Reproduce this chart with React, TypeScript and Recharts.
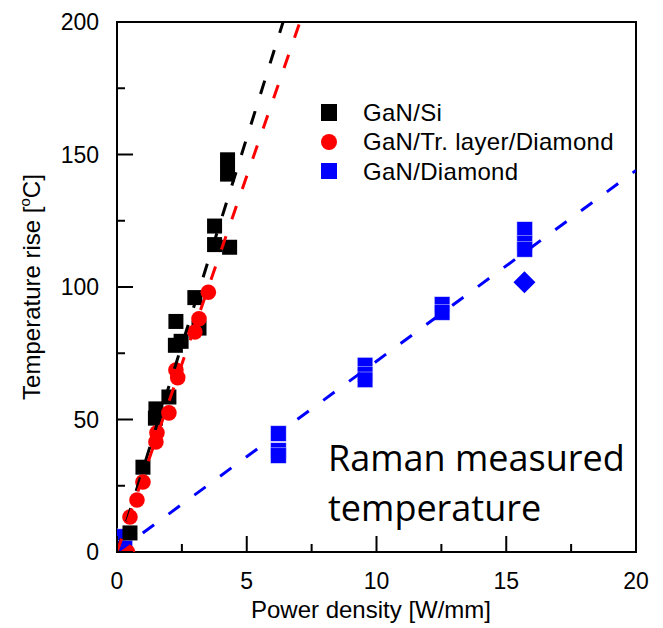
import React from 'react';
import { ScatterChart, Scatter, XAxis, YAxis, ReferenceArea, Legend } from 'recharts';

const xTicks = [0, 2.5, 5, 7.5, 10, 12.5, 15, 17.5, 20];
const yTicks = [0, 25, 50, 75, 100, 125, 150, 175, 200];

const seriesNames = ['GaN/Si', 'GaN/Tr. layer/Diamond', 'GaN/Diamond'];
const seriesColors = ['#000000', '#ff0000', '#0000ff'];

const ganSi = [
  { x: 0.5, y: 7.2 },
  { x: 1.0, y: 32 },
  { x: 1.48, y: 50.5 },
  { x: 1.5, y: 54 },
  { x: 2.0, y: 58.5 },
  { x: 2.27, y: 87 },
  { x: 2.25, y: 78 },
  { x: 2.47, y: 79.5 },
  { x: 3.0, y: 96 },
  { x: 3.16, y: 84.5 },
  { x: 3.76, y: 123 },
  { x: 3.76, y: 116 },
  { x: 4.34, y: 115 },
  { x: 4.26, y: 148 },
  { x: 4.26, y: 142.6 },
];

const ganTr = [
  { x: 0.4, y: 0 },
  { x: 0.5, y: 13.2 },
  { x: 0.77, y: 19.6 },
  { x: 1.0, y: 26.4 },
  { x: 1.5, y: 41.5 },
  { x: 1.54, y: 45 },
  { x: 2.0, y: 52.5 },
  { x: 2.27, y: 68.7 },
  { x: 2.34, y: 65.8 },
  { x: 3.0, y: 83 },
  { x: 3.16, y: 88 },
  { x: 3.52, y: 98 },
];

const ganDia = [
  { x: 0.05, y: 5.8 },
  { x: 0.3, y: 1.5 },
  { x: 6.22, y: 44.7 },
  { x: 6.22, y: 38.3 },
  { x: 6.22, y: 36.4 },
  { x: 9.56, y: 70.5 },
  { x: 9.56, y: 67 },
  { x: 9.56, y: 65 },
  { x: 12.53, y: 93.4 },
  { x: 12.53, y: 90.4 },
  { x: 15.71, y: 121.7 },
  { x: 15.71, y: 116.5 },
  { x: 15.71, y: 114.2 },
];

const ganDiaDiamond = [{ x: 15.7, y: 101.8 }];

const fitSi = [{ x: 0, y: 0 }, { x: 6.4, y: 200 }];
const fitTr = [{ x: 0, y: 0 }, { x: 7.05, y: 200 }];
const fitDia = [{ x: 0, y: 0 }, { x: 20, y: 144 }];

const FONT = '"Liberation Sans", Arial, Helvetica, sans-serif';

const Square = (color: string, size: number, stroke?: string) => (props: any) => {
  const { cx, cy } = props;
  if (cx == null || cy == null) return <g />;
  return (
    <rect
      x={cx - size / 2}
      y={cy - size / 2}
      width={size}
      height={size}
      fill={color}
      stroke={stroke || 'none'}
      strokeWidth={stroke ? 0.5 : 0}
    />
  );
};

const Circle = (color: string, r: number) => (props: any) => {
  const { cx, cy } = props;
  if (cx == null || cy == null) return <g />;
  return <circle cx={cx} cy={cy} r={r} fill={color} />;
};

const Diamond = (color: string, h: number) => (props: any) => {
  const { cx, cy } = props;
  if (cx == null || cy == null) return <g />;
  return (
    <polygon
      points={`${cx},${cy - h} ${cx + h},${cy} ${cx},${cy + h} ${cx - h},${cy}`}
      fill={color}
    />
  );
};

const Empty = () => <g />;

const XTick = (props: any) => {
  const { x, y, payload } = props;
  const v = payload.value;
  const major = v % 5 === 0;
  return (
    <g>
      <line x1={x} x2={x} y1={y} y2={y - (major ? 16 : 8)} stroke="#000" strokeWidth={2} />
      {major && (
        <text x={x} y={y + 37} textAnchor="middle" fontFamily={FONT} fontSize={23} fill="#000">
          {v}
        </text>
      )}
    </g>
  );
};

const YTick = (props: any) => {
  const { x, y, payload } = props;
  const v = payload.value;
  const major = v % 50 === 0;
  return (
    <g>
      <line x1={x} x2={x + (major ? 16 : 8)} y1={y} y2={y} stroke="#000" strokeWidth={2} />
      {major && (
        <text x={x - 18} y={y + 8} textAnchor="end" fontFamily={FONT} fontSize={23} fill="#000">
          {v}
        </text>
      )}
    </g>
  );
};

const XTitle = () => (
  <text x={363} y={610} textAnchor="middle" fontFamily={FONT} fontSize={24} fill="#000">
    Power density [W/mm]
  </text>
);

const YTitle = () => (
  <text
    transform="translate(32,279) rotate(-90)"
    textAnchor="middle"
    fontFamily={FONT}
    fontSize={24}
    fill="#000"
  >
    Temperature rise [
    <tspan fontSize={15} dy={-10}>o</tspan>
    <tspan dy={10}>C]</tspan>
  </text>
);

const LegendContent = () => (
  <div style={{ fontFamily: FONT, fontSize: 24, color: '#000', letterSpacing: 0.3 }}>
    {seriesNames.map((name, i) => (
      <div key={name} style={{ display: 'flex', alignItems: 'center', height: 29.3, whiteSpace: 'nowrap' }}>
        <div style={{ width: 43, display: 'flex', alignItems: 'center' }}>
          <div
            style={{
              width: 16.5,
              height: 16.5,
              background: seriesColors[i],
              borderRadius: i === 1 ? '50%' : 0,
              marginLeft: 0.5,
            }}
          />
        </div>
        <span style={{ lineHeight: '29px' }}>{name}</span>
      </div>
    ))}
  </div>
);

export default function App() {
  return (
    <div style={{ position: 'relative', width: 647, height: 620 }}>
      <ScatterChart width={647} height={620} margin={{ top: 14, right: 19, bottom: 0, left: 0 }}>
        <XAxis
          type="number"
          dataKey="x"
          domain={[0, 20]}
          ticks={xTicks}
          interval={0}
          allowDataOverflow
          height={76}
          tickSize={0}
          tickMargin={0}
          tickLine={false}
          tick={<XTick />}
          axisLine={{ stroke: '#000', strokeWidth: 2 }}
          label={<XTitle />}
        />
        <YAxis
          type="number"
          dataKey="y"
          domain={[0, 200]}
          ticks={yTicks}
          interval={0}
          allowDataOverflow
          width={109}
          tickSize={0}
          tickMargin={0}
          tickLine={false}
          tick={<YTick />}
          axisLine={{ stroke: '#000', strokeWidth: 2 }}
          label={<YTitle />}
        />
        <ReferenceArea x1={0} x2={20} y1={0} y2={200} fill="none" fillOpacity={0} stroke="#000" strokeWidth={2} />
        <Legend
          layout="vertical"
          align="center"
          verticalAlign="middle"
          content={<LegendContent />}
          wrapperStyle={{ top: 90, left: 312, width: 'auto' }}
        />
        <Scatter name={seriesNames[2]} data={ganDia} fill={seriesColors[2]} shape={Square(seriesColors[2], 15.5, '#d8d8ff')} isAnimationActive={false} />
        <Scatter name="GaN/Diamond (diamond)" data={ganDiaDiamond} fill={seriesColors[2]} shape={Diamond(seriesColors[2], 11)} legendType="none" isAnimationActive={false} />
        <Scatter name={seriesNames[0]} data={ganSi} fill={seriesColors[0]} shape={Square(seriesColors[0], 15)} isAnimationActive={false} />
        <Scatter name={seriesNames[1]} data={ganTr} fill={seriesColors[1]} shape={Circle(seriesColors[1], 7.8)} isAnimationActive={false} />
        <Scatter
          name="fit diamond"
          data={fitDia}
          shape={Empty}
          legendType="none"
          line={{ stroke: '#0000ff', strokeWidth: 3, strokeDasharray: '14 18' }}
          isAnimationActive={false}
        />
        <Scatter
          name="fit si"
          data={fitSi}
          shape={Empty}
          legendType="none"
          line={{ stroke: '#000000', strokeWidth: 3, strokeDasharray: '14 18' }}
          isAnimationActive={false}
        />
        <Scatter
          name="fit tr"
          data={fitTr}
          shape={Empty}
          legendType="none"
          line={{ stroke: '#ff0000', strokeWidth: 3, strokeDasharray: '14 18' }}
          isAnimationActive={false}
        />
      </ScatterChart>
      <div
        style={{
          position: 'absolute',
          left: 320,
          top: 425,
          fontFamily: '"Open Sans", sans-serif',
          fontSize: 36,
          lineHeight: '50px',
          color: '#000',
          whiteSpace: 'nowrap',
        }}
      >
        <div>Raman measured</div>
        <div>temperature</div>
      </div>
    </div>
  );
}
